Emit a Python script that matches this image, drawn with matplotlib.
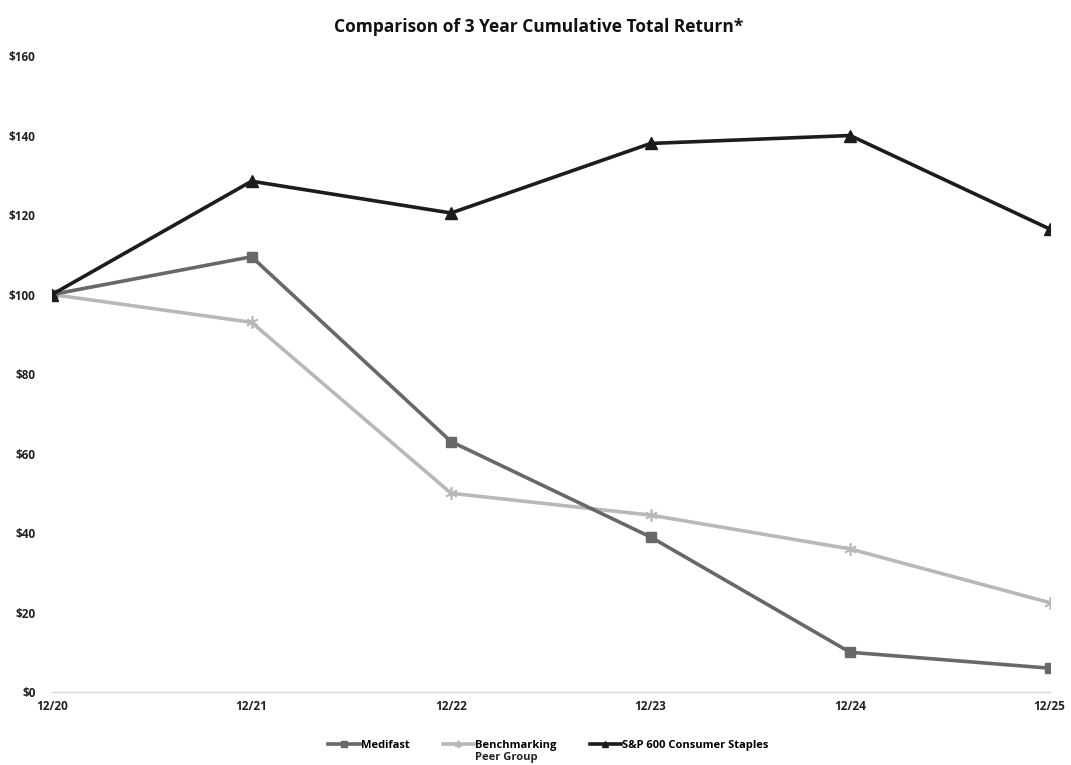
import matplotlib
matplotlib.use("Agg")
import matplotlib.pyplot as plt

categories = ["12/20", "12/21", "12/22", "12/23", "12/24", "12/25"]
medifast = [100, 109.5, 63, 39, 10, 6]
peer = [100, 93, 50, 44.5, 36, 22.5]
sp600 = [100, 128.5, 120.5, 138, 140, 116.5]
yticks = [0, 20, 40, 60, 80, 100, 120, 140, 160]

plt.rcParams['font.family'] = ['Open Sans', 'DejaVu Sans']

fig = plt.figure(figsize=(10.71, 7.65), dpi=100)
ax = fig.add_axes([0.0486, 0.0954, 0.9314, 0.8314])
x = list(range(len(categories)))

ax.plot(x, medifast, color="#686868", lw=2.6, marker="s", ms=7, label="Medifast", zorder=3)
ax.plot(x, peer, color="#b8b8b8", lw=2.6, marker=(6, 2, 0), ms=9, mew=1.2, label="Benchmarking", zorder=2)
ax.plot(x, sp600, color="#1c1c1c", lw=2.6, marker="^", ms=8, label="S&P 600 Consumer Staples", zorder=4)

ax.set_xlim(0, 5)
ax.set_ylim(0, 160)
ax.set_xticks(x)
ax.set_xticklabels(categories, fontsize=8.5, fontweight="bold")
ax.set_yticks(yticks)
ax.set_yticklabels([f"${v}" for v in yticks], fontsize=8.5, fontweight="bold")
for s in ["top", "right", "left"]:
    ax.spines[s].set_visible(False)
ax.spines["bottom"].set_color("#d9d9d9")
ax.spines["bottom"].set_linewidth(1)
ax.tick_params(axis="both", length=0, colors="#222222")
ax.tick_params(axis="y", pad=12)
ax.tick_params(axis="x", pad=6)

fig.suptitle("Comparison of 3 Year Cumulative Total Return*", x=0.503, y=0.976,
             fontsize=12.5, fontweight="bold", color="#111111")

leg = fig.legend(loc="center", bbox_to_anchor=(0.512, 0.026), ncol=3, frameon=False,
                 prop={"size": 8, "weight": "bold"}, handlelength=2.8, handletextpad=0.1,
                 columnspacing=3.0, markerscale=0.6)

fig.canvas.draw()
r = fig.canvas.get_renderer()
bb = leg.get_texts()[1].get_window_extent(r)
fig.text(bb.x0 / fig.bbox.width, (bb.y0 - 1) / fig.bbox.height, "Peer Group",
         fontsize=8, fontweight="bold", color="#222222", ha="left", va="top")

fig.savefig("out.png", dpi=100, facecolor="white")
